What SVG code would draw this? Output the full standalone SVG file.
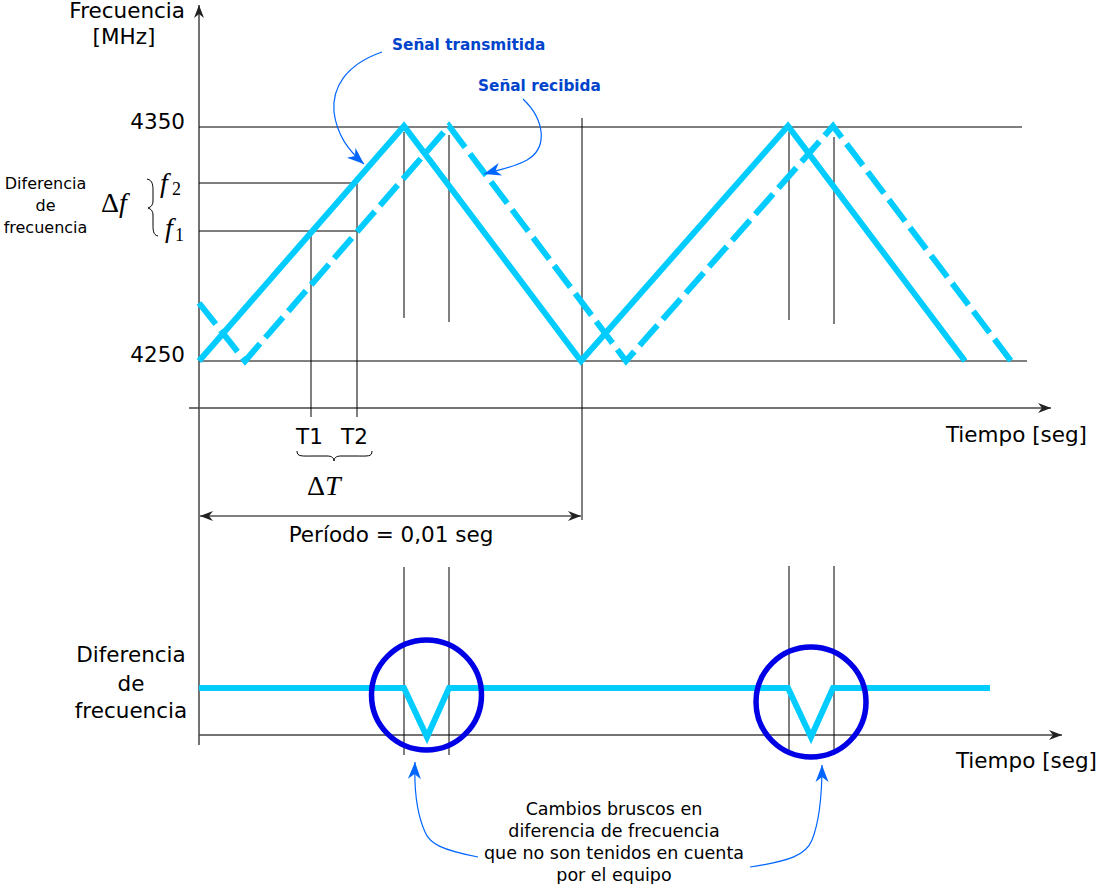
<svg xmlns="http://www.w3.org/2000/svg" width="1097" height="884" viewBox="0 0 1097 884">
<style>
text{font-family:"DejaVu Sans","Liberation Sans",sans-serif;fill:#000}
.t{font-size:21.5px}
.sm{font-size:16px}
.nt{font-size:17.5px}
.bl{font-size:15.3px;font-weight:bold;fill:#0044cc}
.m{font-family:"Liberation Serif","DejaVu Serif",serif;font-size:28px}
.mi{font-family:"Liberation Serif","DejaVu Serif",serif;font-style:italic}
.sub{font-family:"Liberation Serif","DejaVu Serif",serif;font-size:18px}
.grid{stroke:#000;stroke-width:1;fill:none}
.axis{stroke:#444;stroke-width:1.5;fill:none}
.sig{stroke:#00ccff;stroke-width:6;fill:none}
.dash{stroke-dasharray:27,8}
.circ{stroke:#0000e6;stroke-width:5.5;fill:none}
.call{stroke:#0066ff;stroke-width:1.2;fill:none}
</style>
<defs>
<marker id="ah" viewBox="-14 -6 16 12" refX="0" refY="0" markerWidth="16" markerHeight="12" orient="auto-start-reverse" markerUnits="userSpaceOnUse">
<path d="M0,0 L-13,-5 L-9,0 L-13,5 Z" fill="#222"/>
</marker>
<marker id="bh" viewBox="-18 -8 20 16" refX="0" refY="0" markerWidth="20" markerHeight="16" orient="auto" markerUnits="userSpaceOnUse">
<path d="M0,0 L-17,-6.5 L-12,0 L-17,6.5 Z" fill="#0066ff"/>
</marker>
</defs>

<g id="axes">
<line class="axis" x1="199" y1="745" x2="199" y2="5" marker-end="url(#ah)"/>
<line class="axis" x1="189" y1="408" x2="1051" y2="408" marker-end="url(#ah)"/>
<line class="axis" x1="199" y1="735" x2="1062" y2="735" marker-end="url(#ah)"/>
</g>

<g id="grid">
<line class="grid" x1="199" y1="127" x2="1022" y2="127"/>
<line class="grid" x1="199" y1="361" x2="1027" y2="361" stroke="#555"/>
<line class="grid" x1="199" y1="183" x2="357" y2="183"/>
<line class="grid" x1="199" y1="231" x2="357" y2="231"/>
<line class="grid" x1="311" y1="231" x2="311" y2="417"/>
<line class="grid" x1="357" y1="183" x2="357" y2="417"/>
<line class="grid" x1="404" y1="132" x2="404" y2="318"/>
<line class="grid" x1="449" y1="135" x2="449" y2="322"/>
<line class="grid" x1="582" y1="118" x2="582" y2="520"/>
<line class="grid" x1="789" y1="132" x2="789" y2="320"/>
<line class="grid" x1="834" y1="137" x2="834" y2="324"/>
<line class="grid" x1="404" y1="567" x2="404" y2="755"/>
<line class="grid" x1="449" y1="567" x2="449" y2="755"/>
<line class="grid" x1="789" y1="566" x2="789" y2="755"/>
<line class="grid" x1="834" y1="566" x2="834" y2="755"/>
</g>

<g id="transmitted">
<polyline class="sig" points="199,361 404,126 581,361 788,126 965,361"/>
</g>
<g id="received">
<polyline class="sig dash" points="199,303 245,361 449,126 626,361 833,126 1011,361"/>
</g>

<g id="difference">
<polyline class="sig" points="199,688 404,688 427,737 449,688 788,688 811,737 833,688 990,688"/>
</g>

<g id="circles">
<circle class="circ" cx="426.5" cy="695" r="55"/>
<circle class="circ" cx="811" cy="702" r="55"/>
</g>

<g id="connectors">
<path class="call" d="M382,52 C345,65 332,88 334,112 C337,135 348,150 364,164" marker-end="url(#bh)"/>
<path class="call" d="M523,99 C545,120 548,148 527,160 C512,168 498,170 484,174" marker-end="url(#bh)"/>
<path class="call" d="M478,857 C442,850 430,844 425,832 C416,812 414,790 415,762" marker-end="url(#bh)"/>
<path class="call" d="M750,867 C790,861 806,855 812,840 C820,820 822,792 822,765" marker-end="url(#bh)"/>
<line class="grid" x1="200" y1="516" x2="581" y2="516" marker-start="url(#ah)" marker-end="url(#ah)"/>
<path class="grid" d="M147,179 C153,180 153,186 153,192 L153,201 C153,205 151,207 148,208 C151,209 153,211 153,215 L153,224 C153,230 153,235 158,236" stroke-width="0.9"/>
<path class="grid" d="M297,451 C297,457 302,456 314,456 L327,456 C332,456 334,458 334,461 C334,458 336,456 341,456 L355,456 C368,456 372,457 372,451" stroke-width="0.9"/>
</g>

<g id="labels">
<text class="t" x="185" y="18" text-anchor="end">Frecuencia</text>
<text class="t" x="124" y="44" text-anchor="middle">[MHz]</text>
<text class="t" x="185" y="129" text-anchor="end">4350</text>
<text class="t" x="185" y="362" text-anchor="end">4250</text>
<text class="sm" x="45.5" y="189" text-anchor="middle">Diferencia</text>
<text class="sm" x="45.5" y="211" text-anchor="middle">de</text>
<text class="sm" x="45.5" y="233" text-anchor="middle">frecuencia</text>
<text class="m" x="101" y="212">Δ<tspan class="mi">f</tspan></text>
<text class="mi" x="160" y="192" font-size="28">f</text>
<text class="sub" x="172" y="195">2</text>
<text class="mi" x="165" y="237" font-size="28">f</text>
<text class="sub" x="175" y="241">1</text>
<text class="bl" x="392" y="50">Señal transmitida</text>
<text class="bl" x="478" y="91">Señal recibida</text>
<text class="t" x="296" y="444">T1</text>
<text class="t" x="341" y="444">T2</text>
<text class="m" x="307" y="495">Δ<tspan class="mi">T</tspan></text>
<text class="t" x="391" y="542" text-anchor="middle">Período = 0,01 seg</text>
<text class="t" x="1087" y="442" text-anchor="end">Tiempo [seg]</text>
<text class="t" x="1097" y="768" text-anchor="end">Tiempo [seg]</text>
<text class="t" x="131" y="662" text-anchor="middle">Diferencia</text>
<text class="t" x="131" y="691" text-anchor="middle">de</text>
<text class="t" x="131" y="718" text-anchor="middle">frecuencia</text>
<text class="nt" x="614" y="815" text-anchor="middle">Cambios bruscos en</text>
<text class="nt" x="614" y="837" text-anchor="middle">diferencia de frecuencia</text>
<text class="nt" x="614" y="859" text-anchor="middle">que no son tenidos en cuenta</text>
<text class="nt" x="614" y="881" text-anchor="middle">por el equipo</text>
</g>
</svg>
